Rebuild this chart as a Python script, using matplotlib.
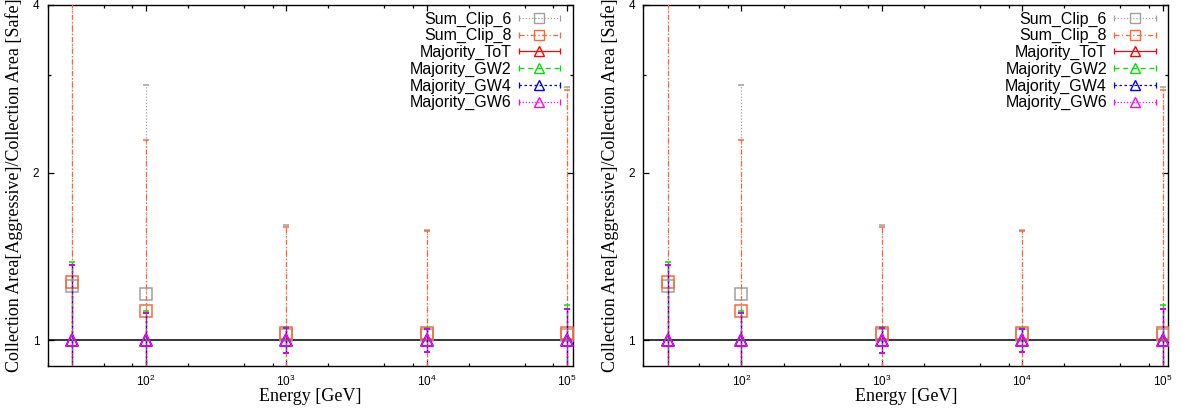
import matplotlib
matplotlib.use('Agg')
import matplotlib.pyplot as plt
from matplotlib.lines import Line2D
from matplotlib.ticker import LogLocator, FixedLocator, NullFormatter, FuncFormatter
from matplotlib.legend_handler import HandlerLine2D

plt.rcParams['font.family'] = 'Liberation Sans'
plt.rcParams['mathtext.fontset'] = 'custom'
plt.rcParams['mathtext.rm'] = 'Liberation Sans'
plt.rcParams['mathtext.default'] = 'regular'

# Energy bins [GeV]
energy = [30, 100, 1000, 10000, 100000]

# ratio values and upper / lower ends of the error bars
sum6 = [1.25, 1.21, 1.02, 1.02, 1.02]
sum6_hi = [6.0, 2.87, 1.61, 1.58, 2.85]
sum6_lo = [0.5, 0.5, 0.5, 0.5, 0.5]

sum8 = [1.27, 1.127, 1.03, 1.03, 1.03]
sum8_hi = [6.0, 2.29, 1.60, 1.57, 2.81]
sum8_lo = [0.5, 0.5, 0.5, 0.5, 0.5]

tot = [1.0, 1.0, 1.0, 1.0, 1.0]
tot_hi = [1.364, 1.12, 1.052, 1.047, 1.14]
tot_lo = [0.5, 0.5, 0.949, 0.953, 0.5]

gw2 = [1.0, 1.0, 1.0, 1.0, 1.0]
gw2_hi = [1.383, 1.13, 1.056, 1.05, 1.156]
gw2_lo = [0.5, 0.5, 0.948, 0.951, 0.5]

gw4 = [1.0, 1.0, 1.0, 1.0, 1.0]
gw4_hi = [1.364, 1.12, 1.052, 1.047, 1.14]
gw4_lo = [0.5, 0.5, 0.949, 0.953, 0.5]

gw6 = [1.0, 1.0, 1.0, 1.0, 1.0]
gw6_hi = [1.364, 1.12, 1.052, 1.047, 1.14]
gw6_lo = [0.5, 0.5, 0.949, 0.953, 0.5]

series = [
    ('Sum_Clip_6', sum6, sum6_lo, sum6_hi, '#a0a0a0', 's', (0, (1, 1.5))),
    ('Sum_Clip_8', sum8, sum8_lo, sum8_hi, '#ff6633', 's', (0, (4, 2, 1, 2))),
    ('Majority_ToT', tot, tot_lo, tot_hi, '#ff0000', '^', '-'),
    ('Majority_GW2', gw2, gw2_lo, gw2_hi, '#00e000', '^', (0, (4, 3))),
    ('Majority_GW4', gw4, gw4_lo, gw4_hi, '#0000ff', '^', (0, (2, 2))),
    ('Majority_GW6', gw6, gw6_lo, gw6_hi, '#ff00ff', '^', (0, (1, 1.5))),
]


def draw_panel(ax):
    ax.axhline(1, color='black', lw=1.1, zorder=1)
    handles, labels, hmap = [], [], {}
    for i, (name, val, lo, hi, col, mk, ls) in enumerate(series):
        err = [[v - l for v, l in zip(val, lo)], [h - v for v, h in zip(val, hi)]]
        eb = ax.errorbar(energy, val, yerr=err, fmt=mk, color=col, ecolor=col,
                         mfc='none', mec=col, ms=8.5, mew=1.1, elinewidth=0.9,
                         capsize=2, capthick=0.9, zorder=3 + i)
        eb[2][0].set_linestyle(ls)
        line = Line2D([], [], color=col, ls=ls, lw=0.9, marker=mk, ms=7.5,
                      mfc='none', mec=col, mew=1.0)
        caps = Line2D([], [], color=col, ls='none', marker='|', ms=5, mew=0.9)
        hmap[caps] = HandlerLine2D(numpoints=2, marker_pad=0)
        handles.append((line, caps))
        labels.append(name)

    ax.set_xscale('log')
    ax.set_yscale('log', base=2)
    ax.set_xlim(20, 1.1e5)
    ax.set_ylim(0.9, 4)
    ax.xaxis.set_major_locator(LogLocator(base=10))
    ax.xaxis.set_minor_locator(LogLocator(base=10, subs=[2, 5, 8]))
    ax.xaxis.set_minor_formatter(NullFormatter())
    ax.yaxis.set_major_locator(FixedLocator([1, 2, 4]))
    ax.yaxis.set_major_formatter(FuncFormatter(lambda v, p: '%g' % v))
    ax.yaxis.set_minor_locator(FixedLocator([3]))
    ax.yaxis.set_minor_formatter(NullFormatter())
    ax.tick_params(which='both', direction='in', top=True, right=True,
                   labelsize=8.5, width=0.9)
    ax.tick_params(which='major', length=4, pad=6)
    ax.tick_params(which='minor', length=2.5)
    for s in ax.spines.values():
        s.set_linewidth(1.0)

    ax.set_xlabel('Energy [GeV]', family='Liberation Serif', fontsize=13)
    ax.set_ylabel('Collection Area[Aggressive]/Collection Area [Safe]',
                  family='Liberation Serif', fontsize=13)
    ax.xaxis.set_label_coords(0.5, -0.063)
    ax.yaxis.set_label_coords(-0.047, 0.5)

    ax.legend(handles, labels, handler_map=hmap, markerfirst=False,
              loc='upper right', bbox_to_anchor=(0.976, 0.982), frameon=False,
              fontsize=11.5, borderpad=0, borderaxespad=0, labelspacing=0.1,
              handlelength=2.6, handletextpad=0.45)


fig = plt.figure(figsize=(11.83, 4.12), dpi=100)
ax1 = fig.add_axes([0.0403, 0.1124, 0.4438, 0.8755])
ax2 = fig.add_axes([0.5438, 0.1124, 0.4438, 0.8755])
draw_panel(ax1)
draw_panel(ax2)

fig.savefig('out.png', dpi=100)
